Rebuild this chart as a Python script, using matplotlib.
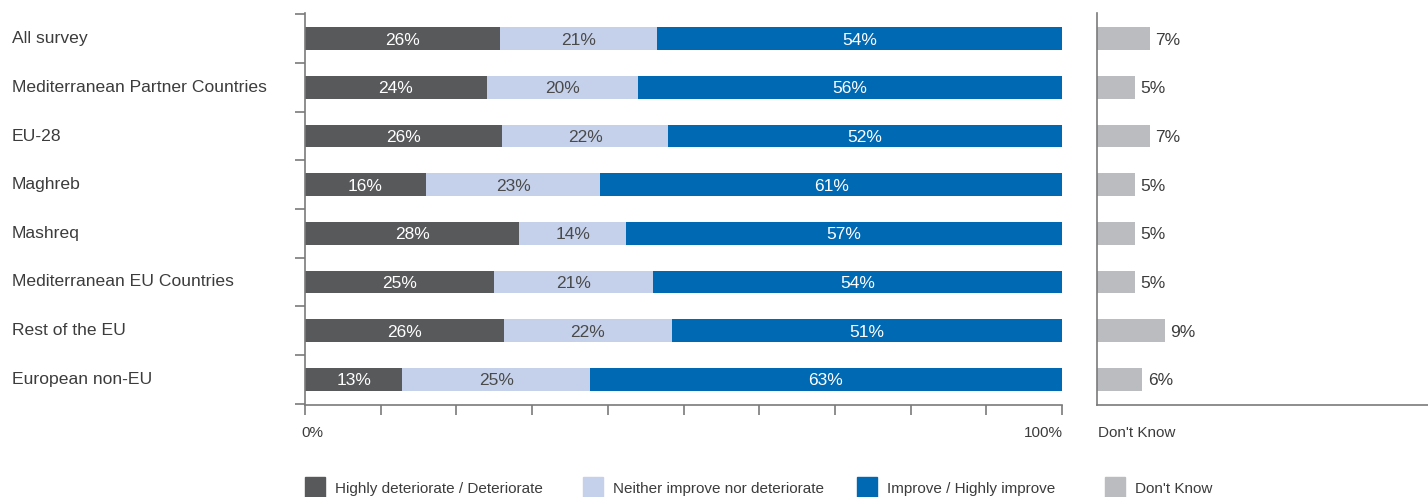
import matplotlib
matplotlib.use("Agg")
import matplotlib.pyplot as plt
from matplotlib.patches import Rectangle
import numpy as np

plt.rcParams['font.family'] = ['Liberation Sans', 'DejaVu Sans']

categories = ["All survey", "Mediterranean Partner Countries", "EU-28", "Maghreb",
              "Mashreq", "Mediterranean EU Countries", "Rest of the EU", "European non-EU"]
deteriorate = [26, 24, 26, 16, 28, 25, 26, 13]
neither = [21, 20, 22, 23, 14, 21, 22, 25]
improve = [54, 56, 52, 61, 57, 54, 51, 63]
dont_know = [7, 5, 7, 5, 5, 5, 9, 6]
series_names = ["Highly deteriorate / Deteriorate", "Neither improve nor deteriorate",
                "Improve / Highly improve", "Don't Know"]

colors = ["#58595b", "#c5d1ea", "#0069b4", "#bbbcbf"]
text_colors = ["white", "#4a4a4a", "white"]
axis_color = "#7a7a7a"
label_color = "#3c3c3c"

W, H = 1428, 497
fig = plt.figure(figsize=(W / 100, H / 100), dpi=100)

def fx(px):
    return px / W

def fy(py):
    return 1 - py / H

top, bottom = 13, 405
ax = fig.add_axes([fx(305), fy(bottom), fx(1062) - fx(305), fy(top) - fy(bottom)])
ax2 = fig.add_axes([fx(1097), fy(bottom), 1 - fx(1097), fy(top) - fy(bottom)])

n = len(categories)
y = np.arange(n)
data = np.array([deteriorate, neither, improve], dtype=float)
norm = data / data.sum(axis=0) * 100
left = np.zeros(n)
bh = 0.47
for i in range(3):
    ax.barh(y, norm[i], left=left, height=bh, color=colors[i], label=series_names[i])
    for j in range(n):
        ax.text(left[j] + norm[i][j] / 2, y[j] + 0.03, f"{int(data[i][j])}%", ha='center', va='center',
                color=text_colors[i], fontsize=12.5)
    left += norm[i]

ax.set_xlim(0, 100)
ax.set_ylim(n - 0.47, -0.53)
for s in ['top', 'right']:
    ax.spines[s].set_visible(False)
for s in ['left', 'bottom']:
    ax.spines[s].set_color(axis_color)
    ax.spines[s].set_linewidth(1.2)
ax.set_xticks(np.arange(0, 101, 10))
ax.set_xticklabels([])
ax.tick_params(axis='x', direction='out', length=7.2, width=1.2, color=axis_color)
ax.set_yticks(np.arange(-0.5, n, 1.0))
ax.set_yticklabels([])
ax.tick_params(axis='y', direction='out', length=7.2, width=1.2, color=axis_color)

# category labels
for j, c in enumerate(categories):
    ax.annotate(c, xy=(fx(12), y[j]), xycoords=('figure fraction', 'data'),
                ha='left', va='center', fontsize=12.6, color=label_color)

fig.text(fx(301), fy(433), "0%", ha='left', va='center', fontsize=11, color=label_color)
fig.text(fx(1063), fy(433), "100%", ha='right', va='center', fontsize=11, color=label_color)
fig.text(fx(1098), fy(433), "Don't Know", ha='left', va='center', fontsize=11, color=label_color)

ax2.barh(y, dont_know, height=bh, color=colors[3], label=series_names[3])
for j in range(n):
    ax2.text(dont_know[j] + 0.7, y[j] + 0.03, f"{dont_know[j]}%", ha='left', va='center',
             fontsize=12.5, color=label_color)
ax2.set_xlim(0, 331 / 7.57)
ax2.set_ylim(n - 0.47, -0.53)
for s in ['top', 'right']:
    ax2.spines[s].set_visible(False)
for s in ['left', 'bottom']:
    ax2.spines[s].set_color(axis_color)
    ax2.spines[s].set_linewidth(1.2)
ax2.set_xticks([])
ax2.set_yticks([])

# legend
leg_x = [305, 583, 857, 1105]
for k in range(4):
    fig.patches.append(Rectangle((fx(leg_x[k]), fy(499)), fx(20), fy(477) - fy(499),
                                 transform=fig.transFigure, color=colors[k]))
    fig.text(fx(leg_x[k] + 30), fy(489), series_names[k], ha='left', va='center',
             fontsize=11, color=label_color)

fig.savefig("out.png", dpi=100)
